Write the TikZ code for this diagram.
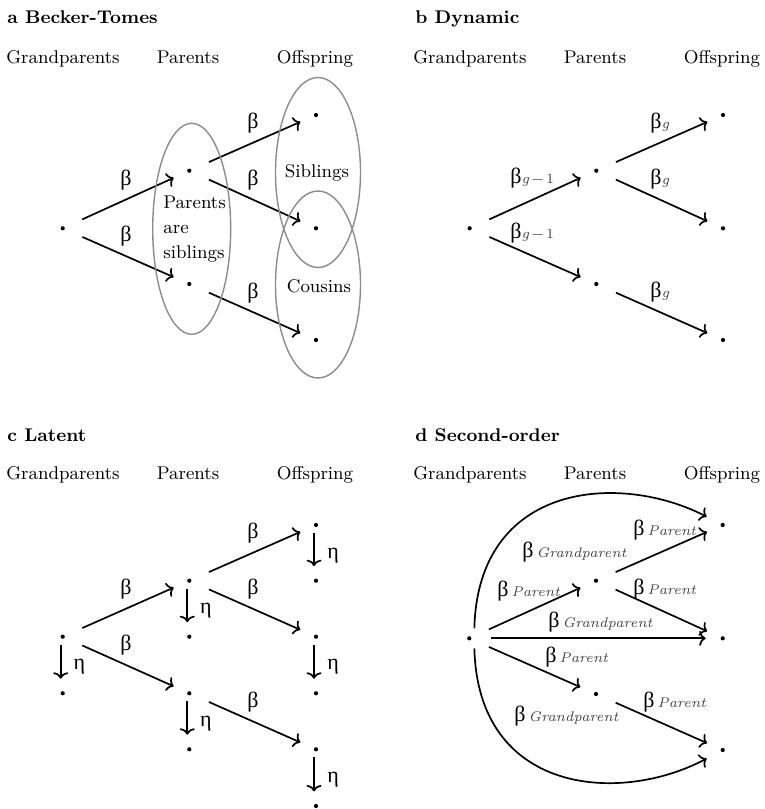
\documentclass[tikz,border=0pt]{standalone}
\usepackage{fontspec}
\newfontfamily\grk{Liberation Serif}
\usetikzlibrary{arrows.meta}
\newcommand\betaT{{\grk\fontsize{11}{12}\selectfont β}}
\newcommand\etaT{{\grk\fontsize{11}{12}\selectfont η}}
\newcommand\mysub[1]{{\fontsize{7}{8}\selectfont\color{black!75}#1}}
\begin{document}
\begin{tikzpicture}[x=0.5pt,y=-0.5pt,
  every node/.style={font=\fontsize{9.2}{12.5}\selectfont, inner sep=0pt},
  dot/.style={circle,fill=black,inner sep=0pt,minimum size=2.1pt},
  arr/.style={line width=0.85pt,-{To[length=3.2pt,width=7.5pt]},shorten <=9.5pt,shorten >=7.3pt},
  etaarr/.style={line width=0.85pt,-{To[length=3.2pt,width=7.5pt]},shorten <=4pt,shorten >=7.3pt},
  curv/.style={line width=0.85pt,-{To[length=3.2pt,width=7.5pt]}},
  ell/.style={draw=black!45,line width=0.7pt},
  title/.style={font=\fontsize{9.2}{11}\selectfont\bfseries,anchor=base west},
  head/.style={anchor=base},
  lab/.style={anchor=center},
  labw/.style={anchor=west}
]
\useasboundingbox (0,0) rectangle (765,809);

% ---------------- panel a ----------------
\node[title] (ta) at (7,23) {a Becker-Tomes};
\node[head] (ha1) at (63,63) {Grandparents};
\node[head] (ha2) at (188,63) {Parents};
\node[head] (ha3) at (315,63) {Offspring};
\node[dot] (ga) at (62.7,228.3) {};
\node[dot] (pa1) at (189.3,170.7) {};
\node[dot] (pa2) at (189.3,284) {};
\node[dot] (oa1) at (316,115) {};
\node[dot] (oa2) at (316,228.3) {};
\node[dot] (oa3) at (316,340) {};
\draw[arr] (ga) -- (pa1);
\draw[arr] (ga) -- (pa2);
\draw[arr] (pa1) -- (oa1);
\draw[arr] (pa1) -- (oa2);
\draw[arr] (pa2) -- (oa3);
\node[lab] (ba1) at (126,180) {\betaT};
\node[lab] (ba2) at (126,236) {\betaT};
\node[lab] (ba3) at (253,123) {\betaT};
\node[lab] (ba4) at (253,180) {\betaT};
\node[lab] (ba5) at (253,293) {\betaT};
\draw[ell] (191.7,228.8) ellipse [x radius=39, y radius=105.5];
\draw[ell] (318,172.5) ellipse [x radius=42.5, y radius=95];
\draw[ell] (318,284.5) ellipse [x radius=42.5, y radius=93.5];
\node[anchor=west,align=left] (pas) at (163,229) {Parents\\are\\siblings};
\node[lab] (sib) at (317,173) {Siblings};
\node[lab] (cou) at (319,286) {Cousins};

% ---------------- panel b ----------------
\node[title] (tb) at (415,23) {b Dynamic};
\node[head] (hb1) at (470,63) {Grandparents};
\node[head] (hb2) at (595,63) {Parents};
\node[head] (hb3) at (722,63) {Offspring};
\node[dot] (gb) at (469.7,228.3) {};
\node[dot] (pb1) at (596.3,170.7) {};
\node[dot] (pb2) at (596.3,284) {};
\node[dot] (ob1) at (723,115) {};
\node[dot] (ob2) at (723,228.3) {};
\node[dot] (ob3) at (723,340) {};
\draw[arr] (gb) -- (pb1);
\draw[arr] (gb) -- (pb2);
\draw[arr] (pb1) -- (ob1);
\draw[arr] (pb1) -- (ob2);
\draw[arr] (pb2) -- (ob3);
\node[labw] (bb1) at (510,178) {\betaT\mysub{\itshape g}\mysub{\,−\,1}};
\node[labw] (bb2) at (510,233) {\betaT\mysub{\itshape g}\mysub{\,−\,1}};
\node[labw] (bb3) at (650,123) {\betaT\mysub{\itshape g}};
\node[labw] (bb4) at (650,179) {\betaT\mysub{\itshape g}};
\node[labw] (bb5) at (650,292) {\betaT\mysub{\itshape g}};

% ---------------- panel c ----------------
\node[title] (tc) at (7,441) {c Latent};
\node[head] (hc1) at (63,479) {Grandparents};
\node[head] (hc2) at (188,479) {Parents};
\node[head] (hc3) at (315,479) {Offspring};
\node[dot] (gc) at (62.7,636.7) {};
\node[dot] (gcl) at (62.7,693.3) {};
\node[dot] (pc1) at (189.3,580.7) {};
\node[dot] (pc1l) at (189.3,636.7) {};
\node[dot] (pc2) at (189.3,693.3) {};
\node[dot] (pc2l) at (189.3,749.3) {};
\node[dot] (oc1) at (316,525) {};
\node[dot] (oc1l) at (316,580.7) {};
\node[dot] (oc2) at (316,636.7) {};
\node[dot] (oc2l) at (316,693.3) {};
\node[dot] (oc3) at (316,749.3) {};
\node[dot] (oc3l) at (316,806) {};
\draw[arr] (gc) -- (pc1);
\draw[arr] (gc) -- (pc2);
\draw[arr] (pc1) -- (oc1);
\draw[arr] (pc1) -- (oc2);
\draw[arr] (pc2) -- (oc3);
\node[lab] (bc1) at (126,589) {\betaT};
\node[lab] (bc2) at (126,645) {\betaT};
\node[lab] (bc3) at (253,533) {\betaT};
\node[lab] (bc4) at (253,589) {\betaT};
\node[lab] (bc5) at (253,702) {\betaT};
\draw[etaarr] ([xshift=-1pt]gc.center) -- ([xshift=-1pt]gcl.center);
\draw[etaarr] ([xshift=-1pt]pc1.center) -- ([xshift=-1pt]pc1l.center);
\draw[etaarr] ([xshift=-1pt]pc2.center) -- ([xshift=-1pt]pc2l.center);
\draw[etaarr] ([xshift=-1pt]oc1.center) -- ([xshift=-1pt]oc1l.center);
\draw[etaarr] ([xshift=-1pt]oc2.center) -- ([xshift=-1pt]oc2l.center);
\draw[etaarr] ([xshift=-1pt]oc3.center) -- ([xshift=-1pt]oc3l.center);
\node[lab] (ec1) at (79.5,667) {\etaT};
\node[lab] (ec2) at (206,611) {\etaT};
\node[lab] (ec3) at (206,723.5) {\etaT};
\node[lab] (ec4) at (333,555.5) {\etaT};
\node[lab] (ec5) at (333,667) {\etaT};
\node[lab] (ec6) at (333,779.5) {\etaT};

% ---------------- panel d ----------------
\node[title] (td) at (415,441) {d Second-order};
\node[head] (hd1) at (470,479) {Grandparents};
\node[head] (hd2) at (595,479) {Parents};
\node[head] (hd3) at (722,479) {Offspring};
\node[dot] (gd) at (469.3,638.3) {};
\node[dot] (pd1) at (596,580.7) {};
\node[dot] (pd2) at (596,694) {};
\node[dot] (od1) at (722.7,525) {};
\node[dot] (od2) at (722.7,638.3) {};
\node[dot] (od3) at (722.7,750) {};
\draw[arr] (gd) -- (pd1);
\draw[arr] (gd) -- (od2);
\draw[arr] (gd) -- (pd2);
\draw[arr] (pd1) -- (od1);
\draw[arr] (pd1) -- (od2);
\draw[arr] (pd2) -- (od3);
\draw[curv,shorten <=5pt,shorten >=7.8pt] ([xshift=2.4pt]gd.center) .. controls (478,482) and (620,472) .. (od1);
\draw[curv,shorten <=5pt,shorten >=7.8pt] ([xshift=2.4pt]gd.center) .. controls (478,794.6) and (620,804.6) .. (od3);
\node[labw] (bd1) at (522,552) {\betaT\,\mysub{\itshape Grandparent}};
\node[labw] (bd2) at (497,591) {\betaT\,\mysub{\itshape Parent}};
\node[labw] (bd3) at (633,530) {\betaT\,\mysub{\itshape Parent}};
\node[labw] (bd4) at (633,589) {\betaT\,\mysub{\itshape Parent}};
\node[labw] (bd5) at (548,622) {\betaT\,\mysub{\itshape Grandparent}};
\node[labw] (bd6) at (545,657) {\betaT\,\mysub{\itshape Parent}};
\node[labw] (bd7) at (514,716) {\betaT\,\mysub{\itshape Grandparent}};
\node[labw] (bd8) at (643,702) {\betaT\,\mysub{\itshape Parent}};
\end{tikzpicture}
\end{document}
